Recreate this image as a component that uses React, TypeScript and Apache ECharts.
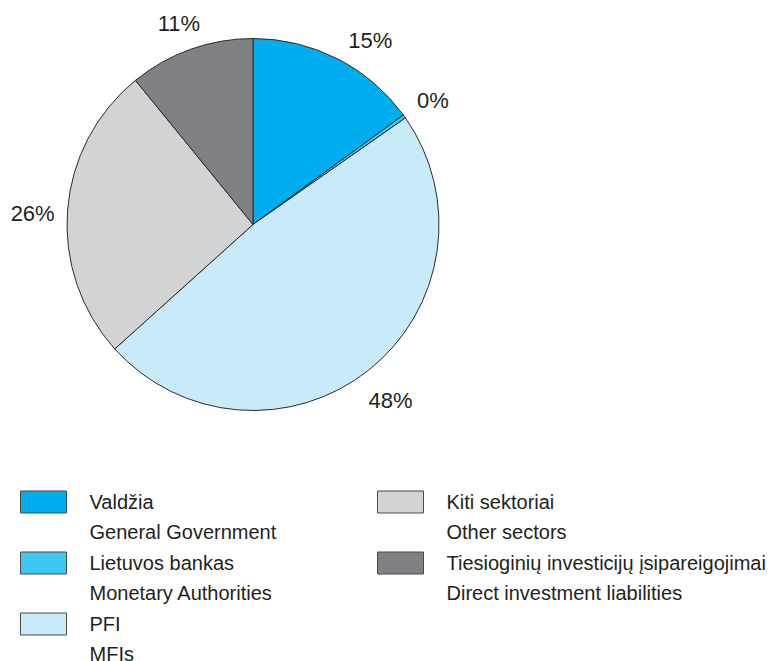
import React, { useEffect, useRef } from "react";
import * as echarts from "echarts";

const namesLt = [
  "Valdžia",
  "Lietuvos bankas",
  "PFI",
  "Kiti sektoriai",
  "Tiesioginių investicijų įsipareigojimai",
];
const namesEn = [
  "General Government",
  "Monetary Authorities",
  "MFIs",
  "Other sectors",
  "Direct investment liabilities",
];
const shares = [15.0, 0.3, 48.1, 25.8, 10.9];
const colors = ["#00AEEF", "#3FC7F4", "#C8EAF9", "#D2D3D5", "#808185"];

// layout-only helpers
const legendPos = [
  { left: 20, top: 490 },
  { left: 20, top: 551 },
  { left: 20, top: 612 },
  { left: 377, top: 490 },
  { left: 377, top: 551 },
];
const labelShift = [
  [17, 13],
  [0, 4],
  [0, 3],
  [0, 6],
  [0, 7],
];

const FONT = '"Liberation Sans", Arial, sans-serif';

export default function App() {
  const ref = useRef<HTMLDivElement>(null);
  useEffect(() => {
    if (!ref.current) return;
    const chart = echarts.init(ref.current, null, { renderer: "svg" });
    const data = namesLt.map((n, i) => ({
      name: n,
      value: shares[i],
      itemStyle: { color: colors[i] },
    }));
    const enMap: Record<string, string> = {};
    namesLt.forEach((n, i) => (enMap[n] = namesEn[i]));
    chart.setOption({
      animation: false,
      backgroundColor: "#ffffff",
      legend: namesLt.map((n, i) => ({
        data: [n],
        orient: "vertical",
        left: legendPos[i].left,
        top: legendPos[i].top - 33,
        padding: 0,
        selectedMode: false,
        icon: "rect",
        itemWidth: 46,
        itemHeight: 22,
        itemStyle: { borderColor: "#4a4a4a", borderWidth: 1 },
        formatter: (name: string) => `\n${name}\n${enMap[name]}`,
        textStyle: {
          fontFamily: FONT,
          fontSize: 20,
          lineHeight: 30,
          color: "#231F20",
          padding: [0, 0, 0, 18],
        },
      })),
      series: [
        {
          type: "pie",
          center: [253, 224.5],
          radius: 186,
          startAngle: 90,
          clockwise: true,
          silent: true,
          label: { show: false },
          labelLine: { show: false },
          itemStyle: { borderColor: "#2b2b2b", borderWidth: 1 },
          emphasis: { disabled: true },
          data,
        },
        {
          type: "pie",
          center: [253, 224.5],
          radius: [200, 236],
          startAngle: 90,
          clockwise: true,
          silent: true,
          itemStyle: { color: "rgba(0,0,0,0)", borderWidth: 0 },
          emphasis: { disabled: true },
          labelLine: { show: false },
          label: {
            show: true,
            position: "inside",
            fontFamily: FONT,
            fontSize: 22,
            color: "#231F20",
            formatter: (p: any) => `${Math.round(p.percent)}%`,
          },
          labelLayout: (p: any) => ({
            dx: labelShift[p.dataIndex][0],
            dy: labelShift[p.dataIndex][1],
          }),
          data: namesLt.map((n, i) => ({ name: n, value: shares[i] })),
        },
      ],
    });
    return () => chart.dispose();
  }, []);
  return (
    <div
      ref={ref}
      style={{ position: "fixed", left: 0, top: 0, width: 779, height: 661 }}
    />
  );
}
